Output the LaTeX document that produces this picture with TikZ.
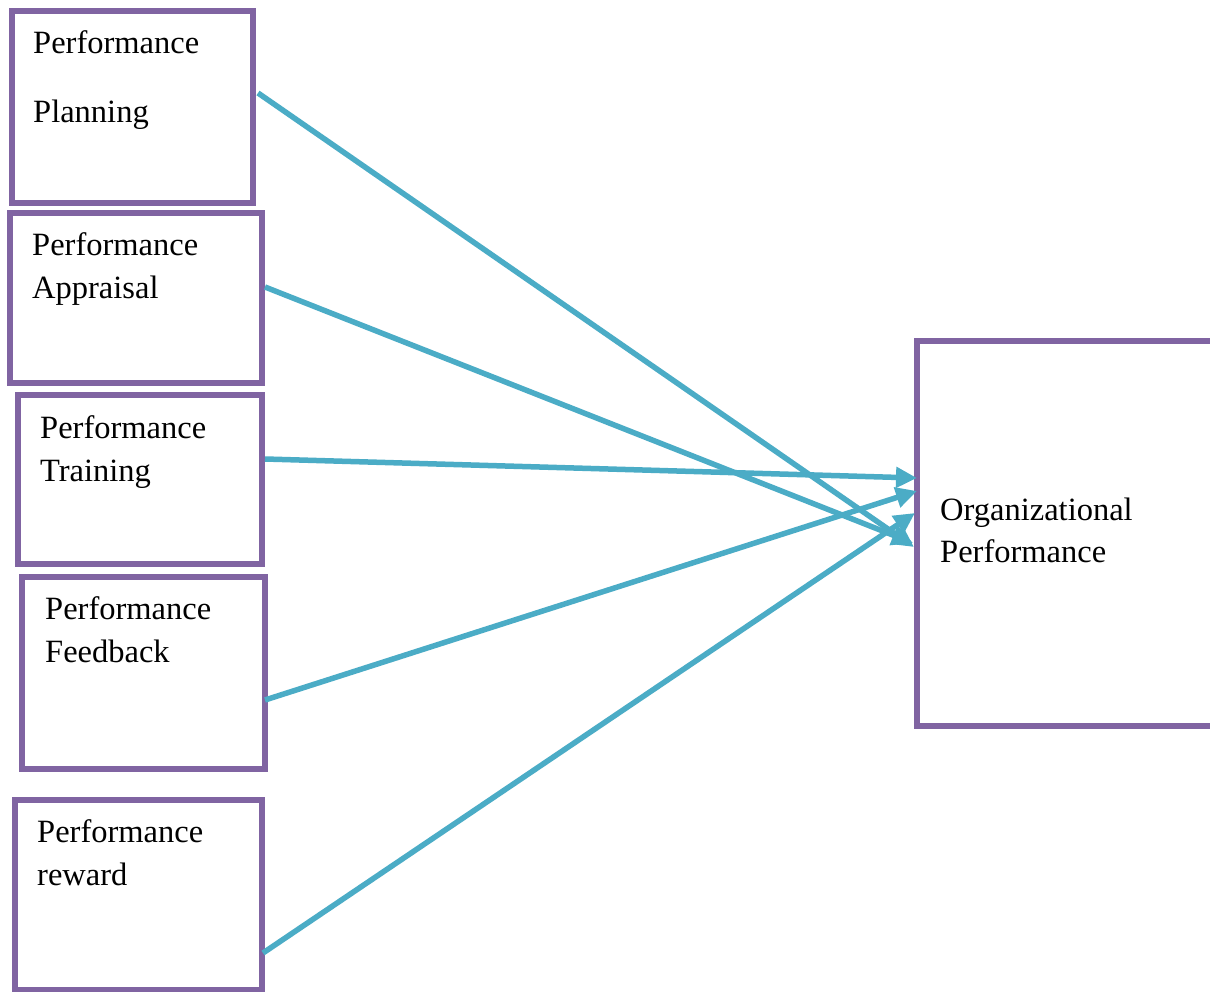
\documentclass[tikz,border=0pt]{standalone}
\usepackage{fontspec}
\setmainfont{Liberation Serif}
\usetikzlibrary{arrows.meta}
\definecolor{boxpurple}{RGB}{128,100,162}
\definecolor{arrowcyan}{RGB}{75,172,198}
\begin{document}
\begin{tikzpicture}[x=1pt,y=-1pt,
  box/.style={draw=boxpurple,line width=6pt,rectangle,inner sep=0pt,outer sep=0pt},
  lbl/.style={anchor=base west,inner sep=0pt,font=\fontsize{32.5}{40}\selectfont},
  conn/.style={draw=arrowcyan,line width=5.5pt,-{Triangle[length=21pt,width=20pt]}}]
\useasboundingbox (0,0) rectangle (1210,992);
\clip (0,0) rectangle (1210,992);
\fill[white] (0,0) rectangle (1210,992);
% boxes
\node[box,minimum width=241.5pt,minimum height=192pt] (b1) at (132.25,107.5) {};
\node[box,minimum width=251.5pt,minimum height=170pt] (b2) at (135.75,298) {};
\node[box,minimum width=243.5pt,minimum height=168.5pt] (b3) at (139.75,479.25) {};
\node[box,minimum width=243.5pt,minimum height=192pt] (b4) at (143.25,672.5) {};
\node[box,minimum width=246.5pt,minimum height=190pt] (b5) at (138.25,895) {};
\node[box,minimum width=313pt,minimum height=385pt] (org) at (1073.5,533.5) {};
% labels
\node[lbl] (t1a) at (33,54) {Performance};
\node[lbl] (t1b) at (33,123) {Planning};
\node[lbl] (t2a) at (32,256) {Performance};
\node[lbl] (t2b) at (32,299) {Appraisal};
\node[lbl] (t3a) at (40,438) {Performance};
\node[lbl] (t3b) at (40,481) {Training};
\node[lbl] (t4a) at (45,619) {Performance};
\node[lbl] (t4b) at (45,662) {Feedback};
\node[lbl] (t5a) at (37,842) {Performance};
\node[lbl] (t5b) at (37,885) {reward};
\node[lbl] (toa) at (940,520) {Organizational};
\node[lbl] (tob) at (940,562) {Performance};
% connector end points
\coordinate (s1) at (258,93);
\coordinate (s2) at (265,287);
\coordinate (s3) at (265,459);
\coordinate (s4) at (265,700);
\coordinate (s5) at (263,953);
\coordinate (e1) at (914,547);
\coordinate (e2) at (913,543);
\coordinate (e3) at (917,478);
\coordinate (e4) at (917,491);
\coordinate (e5) at (915,513);
\draw[conn] (s1) -- (e1);
\draw[conn] (s2) -- (e2);
\draw[conn] (s3) -- (e3);
\draw[conn] (s4) -- (e4);
\draw[conn] (s5) -- (e5);
\end{tikzpicture}
\end{document}
